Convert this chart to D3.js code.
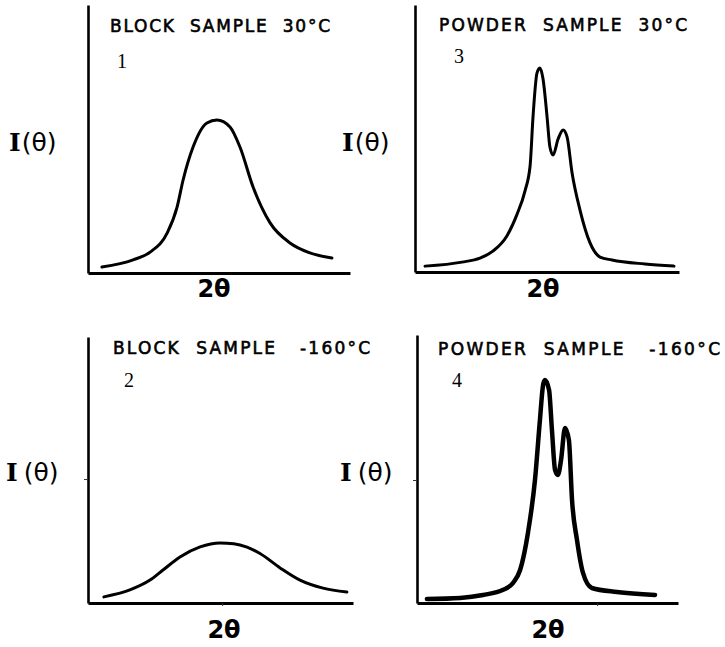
<!DOCTYPE html>
<html><head><meta charset="utf-8">
<script src="https://cdn.jsdelivr.net/npm/d3@7"></script>
<style>html,body{margin:0;padding:0;background:#fff}svg{display:block}text{white-space:pre}</style>
</head><body>
<svg id="chart" width="725" height="647"></svg>
<script>
// ---- data (arbitrary units: 2θ 0..100, intensity 0..100) ----
const panelTitles = ["BLOCK  SAMPLE  30°C", "POWDER  SAMPLE  30°C", "BLOCK  SAMPLE   -160°C", "POWDER  SAMPLE   -160°C"];
const panelNumbers = ["1", "3", "2", "4"];
const yLabel = ["I", "(θ)"];
const xLabel = "2θ";

const block30X = [5.3, 17.2, 23.7, 30.2, 34.0, 36.3, 40.1, 45.4, 49.2, 54.2, 58.0, 63.0, 69.5, 77.1, 84.7, 93.1];
const block30Y = [2.2, 4.9, 7.8, 14.9, 24.6, 34.7, 47.0, 56.0, 57.1, 54.5, 47.0, 32.1, 18.7, 11.2, 7.5, 5.6];

const powder30X = [3.8, 17.8, 24.6, 29.5, 34.8, 38.6, 41.7, 43.6, 44.7, 46.2, 47.3, 48.5, 50.0, 51.1, 52.3, 54.2, 56.1, 57.6, 59.5, 62.5, 66.3, 70.1, 74.6, 87.1, 98.1];
const powder30Y = [2.2, 3.7, 5.2, 7.8, 13.5, 21.5, 30.5, 39.8, 58.1, 74.5, 76.4, 72.3, 58.4, 46.8, 43.8, 49.8, 53.2, 50.6, 37.1, 23.2, 10.9, 5.6, 4.5, 3.0, 2.2];

const block160X = [6.0, 15.8, 23.4, 28.3, 34.7, 42.3, 49.8, 55.0, 60.0, 64.9, 72.5, 80.0, 88.7, 97.7];
const block160Y = [2.3, 4.9, 8.6, 12.4, 17.3, 21.1, 22.6, 22.3, 21.0, 18.6, 13.2, 8.6, 5.6, 4.1];

const powder160X = [3.8, 16.5, 25.3, 33.0, 36.8, 39.5, 42.5, 45.2, 47.1, 48.3, 49.0, 50.6, 51.7, 52.9, 54.0, 55.2, 56.7, 58.2, 59.4, 61.3, 63.6, 67.0, 76.6, 91.2];
const powder160Y = [1.5, 1.9, 3.0, 4.9, 7.5, 12.3, 26.1, 45.9, 68.3, 81.3, 83.2, 79.5, 64.6, 49.6, 47.8, 53.4, 65.3, 60.8, 38.4, 23.5, 11.2, 5.6, 4.1, 3.0];

const yTicks = [[], [], [46.6], [45.9]];
const xTicks = [[], [], [50.6], [69]];

const seriesX = [block30X, powder30X, block160X, powder160X];
const seriesY = [block30Y, powder30Y, block160Y, powder160Y];

// ---- layout ----
const layout = [
  {l: 88,  r: 350, t: 5,   b: 273, title: [110, 32, 220], num: [117, 68], yl: [9, 151, 0], xl: [214, 297], sw: 3},
  {l: 415, r: 679, t: 5,   b: 272, title: [439, 31, 248], num: [454, 63], yl: [342, 151, 0], xl: [543, 297], sw: 3},
  {l: 88,  r: 353, t: 337, b: 603, title: [113, 354, 257], num: [124, 387], yl: [6, 481, 5], xl: [224, 638], sw: 3},
  {l: 417, r: 678, t: 335, b: 603, title: [438, 355, 282], num: [452, 387], yl: [340, 481, 5], xl: [548, 638], sw: 4.5}
];

const svg = d3.select("#chart");
svg.append("rect").attr("width", 725).attr("height", 647).attr("fill", "#fff");

layout.forEach((p, i) => {
  const x = d3.scaleLinear().domain([0, 100]).range([p.l, p.r]);
  const y = d3.scaleLinear().domain([0, 100]).range([p.b, p.t]);
  const g = svg.append("g");

  // axes
  const ax = g.append("g").attr("transform", `translate(0,${p.b})`)
    .call(d3.axisBottom(x).tickValues(xTicks[i]).tickSize(3).tickSizeOuter(0).tickFormat(""));
  ax.select(".domain").attr("stroke", "#000").attr("stroke-width", 3);
  ax.selectAll(".tick line").attr("stroke", "#333").attr("stroke-width", 1);

  const ay = g.append("g").attr("transform", `translate(${p.l},0)`)
    .call(d3.axisLeft(y).tickValues(yTicks[i]).tickSize(4).tickSizeOuter(0).tickFormat(""));
  ay.select(".domain").attr("stroke", "#000").attr("stroke-width", 2.6);
  ay.selectAll(".tick line").attr("stroke", "#333").attr("stroke-width", 1);

  // curve
  const pts = seriesX[i].map((v, k) => [v, seriesY[i][k]]);
  g.append("path")
    .attr("d", d3.line().x(d => x(d[0])).y(d => y(d[1])).curve(d3.curveMonotoneX)(pts))
    .attr("fill", "none").attr("stroke", "#000").attr("stroke-width", p.sw)
    .attr("stroke-linejoin", "round").attr("stroke-linecap", "round");

  // title
  g.append("text").attr("x", p.title[0]).attr("y", p.title[1])
    .attr("textLength", p.title[2]).attr("lengthAdjust", "spacing")
    .attr("font-family", "DejaVu Sans").attr("font-size", 17).attr("fill", "#000")
    .attr("stroke", "#000").attr("stroke-width", 0.6)
    .text(panelTitles[i]);

  // panel number
  g.append("text").attr("x", p.num[0]).attr("y", p.num[1])
    .attr("font-family", "Liberation Serif").attr("font-size", 20).attr("fill", "#000")
    .text(panelNumbers[i]);

  // y label
  const t = g.append("text").attr("x", p.yl[0]).attr("y", p.yl[1]).attr("fill", "#000").attr("font-size", 25);
  t.append("tspan").attr("font-family", "DejaVu Serif").attr("font-weight", "bold").text(yLabel[0]);
  t.append("tspan").attr("dx", p.yl[2] + 1).attr("font-family", "DejaVu Sans").text(yLabel[1]);

  // x label
  g.append("text").attr("x", p.xl[0]).attr("y", p.xl[1]).attr("text-anchor", "middle")
    .attr("font-family", "DejaVu Sans").attr("font-weight", "bold").attr("font-size", 24).attr("fill", "#000")
    .text(xLabel);
});
</script>
</body></html>
